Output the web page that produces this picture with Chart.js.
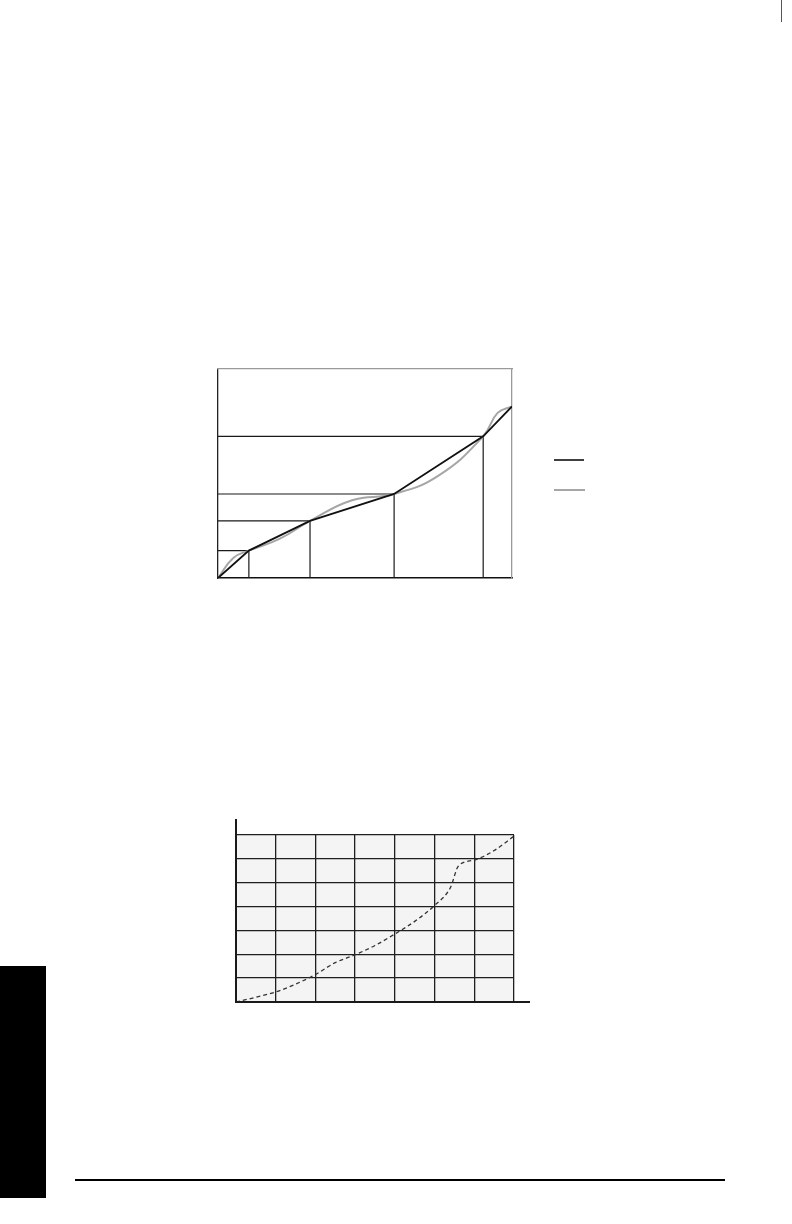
<!DOCTYPE html>
<html>
<head>
<meta charset="utf-8">
<script src="https://cdn.jsdelivr.net/npm/chart.js@4.4.1/dist/chart.umd.min.js"></script>
<style>
  html, body { margin: 0; padding: 0; background: #fff; }
  body { width: 792px; height: 1224px; position: relative; overflow: hidden; font-family: "Liberation Serif", serif; }
  .box { position: absolute; }
  #tab { position: absolute; left: 0; top: 966px; width: 46px; height: 232px; background: #000; }
  #rule { position: absolute; left: 75px; top: 1179px; width: 650px; height: 1.5px; background: #000; }
  #crop { position: absolute; left: 781px; top: 0; width: 1px; height: 22px; background: #555; }
</style>
</head>
<body>
<div id="crop"></div>
<div class="box" style="left:200px; top:350px; width:420px; height:250px;"><canvas id="chartBreaks"></canvas></div>
<div class="box" style="left:220px; top:805px; width:330px; height:215px;"><canvas id="chartRate"></canvas></div>
<div id="tab"></div>
<div id="rule"></div>

<script>
// top chart: piecewise line and the smooth curve round it
const breakX = [0, 10.5, 31.3, 59.9, 90.2, 100];
const breakY = [0, 13.1, 27.3, 40.2, 67.8, 82.1];
const curveX = [0, 5.2, 10.5, 20.9, 31.3, 45.6, 59.9, 75, 90.2, 95.1, 100];
const curveY = [0, 9.6, 13.1, 18.7, 27.3, 37.2, 40.2, 49, 67.8, 79, 82.1];

// bottom chart: dashed curve over a 7 x 7 grid
const rateX = [0, 0.5, 1, 1.5, 2, 2.5, 3, 3.5, 4, 4.5, 5, 5.4, 5.6, 6, 6.5, 7];
const rateY = [0, 0.2, 0.42, 0.75, 1.15, 1.65, 1.98, 2.37, 2.85, 3.38, 4.05, 4.8, 5.7, 5.95, 6.35, 6.95];
const gridSteps = [0, 1, 2, 3, 4, 5, 6, 7];

function pts(xs, ys) {
    return xs.map(function (x, i) { return { x: x, y: ys[i] }; });
}

var noTicks = { display: false };

// guide lines: from the left edge across to each break, then down
var guideSets = [];
for (var i = 1; i < breakX.length - 1; i++) {
    guideSets.push({
        data: [{ x: 0, y: breakY[i] }, { x: breakX[i], y: breakY[i] }, { x: breakX[i], y: 0 }],
        borderColor: '#1a1a1a',
        borderWidth: 1.2,
        pointRadius: 0,
        order: 3
    });
}

const legendLines = {
    id: 'legendLines',
    afterDraw: function (chart) {
        var c = chart.ctx, a = chart.chartArea;
        c.save();
        c.lineWidth = 1.6;
        c.strokeStyle = '#111';
        c.beginPath(); c.moveTo(a.right + 42, a.top + 91); c.lineTo(a.right + 72, a.top + 91); c.stroke();
        c.lineWidth = 2;
        c.strokeStyle = '#a6a6a6';
        c.beginPath(); c.moveTo(a.right + 42, a.top + 121); c.lineTo(a.right + 73, a.top + 121); c.stroke();
        c.restore();
    }
};

new Chart(document.getElementById('chartBreaks'), {
    type: 'line',
    data: {
        datasets: [{
            data: pts(breakX, breakY),
            borderColor: '#111',
            borderWidth: 1.8,
            pointRadius: 0,
            order: 0
        }, {
            data: pts(curveX, curveY),
            borderColor: '#a6a6a6',
            borderWidth: 2,
            pointRadius: 0,
            tension: 0.45,
            order: 1
        }].concat(guideSets)
    },
    options: {
        responsive: true,
        maintainAspectRatio: false,
        animation: false,
        layout: { padding: { left: 18, top: 19, right: 108, bottom: 22 } },
        plugins: { legend: { display: false }, tooltip: { enabled: false } },
        scales: {
            x: { type: 'linear', min: 0, max: 100, ticks: noTicks, grid: { display: false, drawTicks: false }, border: { color: '#111', width: 1.5 } },
            y: { type: 'linear', min: 0, max: 100, ticks: noTicks, grid: { display: false, drawTicks: false }, border: { color: '#222', width: 1.3 } },
            x2: { type: 'linear', position: 'top', min: 0, max: 100, ticks: noTicks, grid: { display: false, drawTicks: false }, border: { color: '#9a9a9a', width: 1.3 } },
            y2: { type: 'linear', position: 'right', min: 0, max: 100, ticks: noTicks, grid: { display: false, drawTicks: false }, border: { color: '#9a9a9a', width: 1.3 } }
        }
    },
    plugins: [legendLines]
});

// light fill behind the grid, and axis lines that run past it
const gridBack = {
    id: 'gridBack',
    beforeDraw: function (chart) {
        var c = chart.ctx, a = chart.chartArea;
        c.save();
        c.fillStyle = '#f4f4f4';
        c.fillRect(a.left, a.top, a.right - a.left, a.bottom - a.top);
        c.restore();
    },
    afterDraw: function (chart) {
        var c = chart.ctx, a = chart.chartArea;
        c.save();
        c.strokeStyle = '#1a1a1a';
        c.lineWidth = 2;
        c.beginPath();
        c.moveTo(a.left, a.top - 16);
        c.lineTo(a.left, a.bottom);
        c.lineTo(a.right + 16, a.bottom);
        c.stroke();
        c.restore();
    }
};

new Chart(document.getElementById('chartRate'), {
    type: 'line',
    data: {
        datasets: [{
            data: pts(rateX, rateY),
            borderColor: '#333',
            borderWidth: 1.3,
            borderDash: [4, 3],
            pointRadius: 0,
            cubicInterpolationMode: 'monotone'
        }]
    },
    options: {
        responsive: true,
        maintainAspectRatio: false,
        animation: false,
        layout: { padding: { left: 16, top: 30, right: 36, bottom: 18 } },
        plugins: { legend: { display: false }, tooltip: { enabled: false } },
        scales: {
            x: {
                type: 'linear', min: gridSteps[0], max: gridSteps[gridSteps.length - 1],
                ticks: { display: false, stepSize: 1 },
                grid: { color: '#1f1f1f', lineWidth: 1.3, drawTicks: false },
                border: { display: false }
            },
            y: {
                type: 'linear', min: gridSteps[0], max: gridSteps[gridSteps.length - 1],
                ticks: { display: false, stepSize: 1 },
                grid: { color: '#1f1f1f', lineWidth: 1.3, drawTicks: false },
                border: { display: false }
            }
        }
    },
    plugins: [gridBack]
});
</script>
</body>
</html>
